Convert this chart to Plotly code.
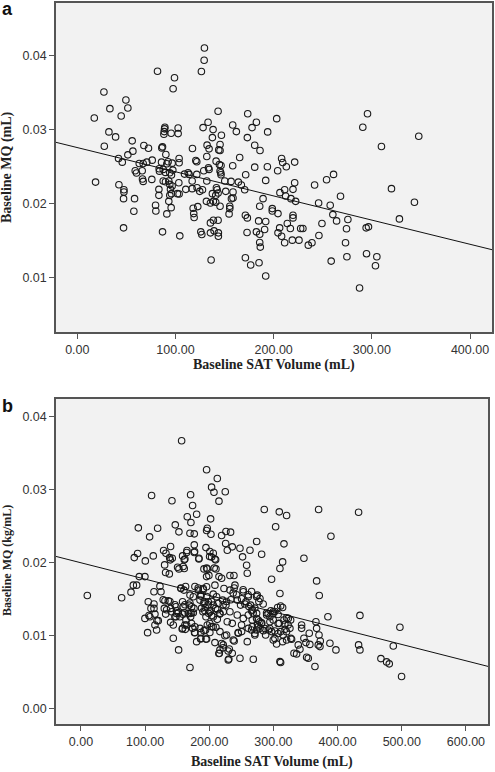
import plotly.graph_objects as go

# ---------------- Panel a data ----------------
a_sat = [129.5,129.2,126.4,81.7,99.0,97.6,27.1,49.5,33.2,51.5,44.7,17.3,143.4,173.6,203.1,295.6,290.8,347.8,309.8,32.2,
         39.0,27.5,55.9,56.6,51.5,67.8,72.5,42.0,45.8,133.2,128.1,138.3,137.6,146.8,158.3,162.0,182.4,178.0,173.2,180.7,
         186.1,193.9,89.2,88.9,88.5,88.2,95.6,102.7,102.7,86.8,86.1,90.2,132.2,134.2,145.4,144.1,145.4,117.3,120.7,121.7,
         131.9,141.4,158.3,165.4,144.7,146.4,133.6,134.2,128.8,145.4,146.1,146.4,171.5,180.7,193.6,208.1,209.2,212.9,221.4,204.1,
         191.9,67.1,63.1,70.8,76.3,59.0,60.3,66.1,66.4,67.1,75.9,83.4,83.7,85.8,87.5,91.2,92.5,96.6,97.3,103.7,
         103.7,94.2,95.9,89.8,87.5,89.8,93.2,94.2,96.6,103.4,109.2,112.9,113.9,121.7,117.0,131.9,150.2,156.6,164.1,167.1,
         221.4,241.7,253.9,261.0,18.6,42.4,
         47.5,47.5,47.1,47.1,58.3,57.6,79.7,80.0,83.1,83.1,86.8,91.2,93.2,94.9,95.9,94.2,95.6,102.0,103.7,104.4,
         110.5,117.0,122.0,124.7,127.5,118.0,118.6,119.0,122.7,125.8,126.8,131.5,135.6,137.6,141.0,142.4,143.4,141.7,138.6,141.0,
         145.4,135.6,138.6,143.4,135.6,139.3,143.7,143.7,136.3,151.2,155.3,155.3,154.6,157.0,158.6,158.6,170.5,171.2,173.2,172.9,
         171.2,176.6,185.8,189.2,184.7,191.9,182.4,185.8,185.8,186.4,190.8,185.1,191.9,198.6,198.6,204.4,206.4,211.2,212.2,217.6,
         222.4,219.7,204.4,208.1,206.1,211.2,213.9,217.0,219.7,219.7,219.0,225.8,227.5,229.8,235.3,239.0,245.8,249.2,246.1,257.6,
         260.3,264.1,258.6,268.1,275.6,274.2,273.2,274.6,287.5,294.2,296.6,294.6,305.1,303.7,320.0,328.1,343.4]
a_mq = [0.04103,0.03937,0.03785,0.03789,0.0370,0.03552,0.03507,0.0340,0.03283,0.03291,0.03184,0.03157,0.03247,0.03215,0.03148,0.03215,0.03031,0.02910,0.02771,0.02969,
        0.02901,0.02776,0.02848,0.02709,0.02659,0.02785,0.02749,0.0261,0.0256,0.0310,0.03027,0.0300,0.02892,0.02924,0.03063,0.02973,0.0310,0.03027,0.02892,0.02789,
        0.02717,0.02969,0.03031,0.0301,0.02973,0.02937,0.02951,0.03022,0.02946,0.02767,0.02753,0.02664,0.0279,0.0274,0.02798,0.02726,0.02717,0.02744,0.02583,0.02565,
        0.02637,0.02574,0.02511,0.02623,0.02529,0.02516,0.02484,0.02462,0.02444,0.0244,0.02417,0.0239,0.0239,0.02493,0.02498,0.0261,0.02556,0.02498,0.02561,0.02444,
        0.02314,0.02543,0.02543,0.0256,0.02587,0.02444,0.02413,0.02444,0.02332,0.023,0.02327,0.02471,0.02439,0.0256,0.02462,0.02538,0.02565,0.02547,0.02453,0.0261,
        0.02552,0.02417,0.02386,0.02422,0.02305,0.02296,0.02305,0.0226,0.02238,0.02283,0.02399,0.02417,0.02395,0.02395,0.02305,0.02305,0.02305,0.023,0.02291,0.02251,
        0.02282,0.02251,0.02323,0.02395,0.02291,0.02256,
        0.02188,0.02157,0.02067,0.01673,0.02067,0.01897,0.01978,0.01901,0.02193,0.02112,0.01619,0.01861,0.02031,0.02193,0.02135,0.02112,0.01946,0.02135,0.0213,0.01565,
        0.02193,0.02202,0.02215,0.02166,0.02188,0.01937,0.01865,0.01812,0.0196,0.01619,0.01583,0.02031,0.02009,0.02135,0.02112,0.02188,0.02143,0.02215,0.02031,0.02018,
        0.01964,0.0174,0.01776,0.01776,0.01605,0.01632,0.01605,0.0156,0.01238,0.02166,0.01964,0.01933,0.01861,0.02067,0.02076,0.02157,0.02188,0.01843,0.01807,0.0161,
        0.01269,0.0117,0.01964,0.02067,0.01767,0.01758,0.01619,0.01587,0.01475,0.01413,0.0165,0.01202,0.01022,0.01933,0.01901,0.01865,0.02148,0.02188,0.02103,0.02067,
        0.02031,0.02193,0.01605,0.0156,0.01673,0.01471,0.01731,0.01664,0.01843,0.01807,0.01507,0.01507,0.01664,0.01664,0.01439,0.01471,0.02009,0.01731,0.01569,0.01978,
        0.01852,0.01767,0.01224,0.02099,0.01785,0.0166,0.01471,0.01283,0.00861,0.01673,0.01686,0.01323,0.01283,0.01161,0.02202,0.01794,0.02018]

# fitted line, panel a
a_intercept = 0.02757
a_slope = -3.265e-5

# ---------------- Panel b data ----------------
b_sat = [156.9,195.8,212.5,203.6,207.3,224.9,215.1,110.1,141.8,170.9,174.0,165.7,171.4,180.3,202.1,196.9,195.8,202.6,169.9,176.6,
         219.2,226.0,233.2,225.5,228.1,235.8,89.4,107.0,119.5,147.0,152.7,285.7,309.1,320.5,303.4,316.4,314.3,310.1,273.8,263.4,
         281.6,247.8,251.9,258.2,259.2,370.4,389.6,432.7,347.5,367.3,297.1,176.6,177.1,176.6,165.2,164.7,158.4,161.0,161.0,150.6,
         152.7,139.7,128.8,132.5,138.2,142.3,139.2,130.4,131.9,137.7,112.7,100.3,88.3,83.1,90.9,99.7,183.9,194.8,206.2,200.5,
         209.9,191.7,196.9,210.4,215.1,219.2,195.8,232.2,238.4,
         159.3,162.0,183.8,200.9,203.6,208.7,195.8,207.7,199.4,
         9.9,63.4,78.0,81.6,86.8,123.1,113.8,124.7,104.9,113.8,109.1,113.8,99.7,107.5,103.9,115.3,118.4,120.5,117.9,130.9,
         136.1,129.9,132.0,139.7,141.3,139.7,143.9,148.0,151.7,148.1,143.9,152.2,158.4,159.5,161.0,163.6,164.7,158.4,162.6,155.8,
         160.5,169.9,175.1,168.8,172.5,176.1,167.3,170.9,175.1,169.9,174.0,177.1,180.3,182.9,190.6,195.8,187.0,185.5,191.7,193.8,
         198.4,190.1,194.8,198.9,201.0,185.5,191.7,196.9,186.5,195.8,208.8,206.2,211.4,206.2,209.9,214.0,206.2,212.5,216.6,203.6,
         210.4,216.6,208.8,216.6,221.8,215.6,229.6,222.9,232.2,220.8,226.0,221.8,232.2,228.0,235.8,227.0,237.4,231.2,235.8,247.8,
         240.0,243.6,248.8,243.6,253.0,245.2,250.4,259.2,253.0,260.8,257.1,264.4,260.8,267.0,260.8,267.0,268.6,267.5,273.8,274.8,
         279.0,276.4,281.6,273.8,279.0,284.2,287.8,289.4,294.5,292.0,297.1,294.5,299.7,299.7,304.9,310.1,306.5,311.2,314.3,309.1,
         316.4,311.2,318.0,310.1,311.2,314.3,320.5,323.1,326.8,325.7,328.3,332.0,336.1,338.7,341.3,343.9,343.9,347.5,350.6,351.7,
         354.3,355.8,364.7,366.2,367.3,369.9,372.5,371.0,373.0,371.4,384.9,388.0,397.4,432.7,434.8,434.8,467.5,476.4,480.5,486.8,
         497.1,499.7,
         146.4,154.2,149.1,162.0,157.8,172.4,177.6,177.6,169.8,186.9,194.7,186.9,194.2,200.9,200.9,206.1,219.2,215.0,221.7,229.4,
         230.5,224.3,238.8,245.0,250.3,265.9,271.0,275.2,
         356.7,322.9,320.4,327.1,302.2,307.3,315.1,302.2,307.3,317.8,320.4,299.5,307.3,273.7,278.8,276.2,271.0,286.6,294.4,281.4,
         291.7,299.5,
         105.9,115.3,133.5,128.2,138.6,146.4,149.1,158.4,162.0,169.8,172.4,155.8,163.1,177.6,182.7,186.9,190.5,195.8,192.1,198.3,
         203.6,188.0,193.1,200.9,203.6,212.9,216.5,221.7,226.9,233.6,237.2,238.8,242.5,250.3,255.5,261.7,265.9,271.0,252.8,260.6,
         265.9,273.7,277.3,268.4,
         289.3,296.0,302.2,284.0]
b_mq = [0.03667,0.03269,0.03151,0.03032,0.02963,0.02968,0.0284,0.02918,0.02845,0.02927,0.02781,0.02626,0.02548,0.02662,0.02598,0.0247,0.02438,0.02388,0.02402,0.02393,
        0.0237,0.02425,0.02416,0.0226,0.02169,0.02215,0.02475,0.02352,0.0247,0.02516,0.0242,0.02726,0.02694,0.02644,0.02489,0.02256,0.02009,0.01918,0.02288,0.02169,
        0.02114,0.02196,0.02078,0.01963,0.01854,0.02726,0.02361,0.02689,0.02059,0.01749,0.01772,0.02242,0.02151,0.02137,0.02164,0.02137,0.02091,0.02037,0.01918,0.01936,
        0.01913,0.02219,0.02164,0.02128,0.02068,0.02059,0.02037,0.01968,0.01863,0.01845,0.02091,0.02023,0.02123,0.02068,0.01808,0.01808,0.02059,0.02205,0.02128,0.02082,
        0.02037,0.01913,0.01913,0.01913,0.01808,0.01785,0.01808,0.01822,0.01822,
        0.01947,0.02048,0.02048,0.02152,0.02075,0.02048,0.01925,0.01925,0.01824,
        0.0155,0.01518,0.01595,0.01691,0.01691,0.01677,0.016,0.016,0.01464,0.01432,0.01373,0.01373,0.01236,0.01259,0.01041,0.01145,0.01205,0.01205,0.01077,0.01477,
        0.01477,0.01373,0.01295,0.01373,0.01327,0.01182,0.01145,0.01395,0.01314,0.01259,0.00964,0.00805,0.01464,0.01395,0.01314,0.01214,0.01145,0.0110,0.01086,0.01645,
        0.01623,0.01555,0.01532,0.01418,0.01395,0.01373,0.01305,0.01259,0.01314,0.00564,0.011,0.01041,0.00918,0.01623,0.01645,0.01668,0.01541,0.01486,0.01441,0.01386,
        0.01464,0.01327,0.01259,0.01305,0.01341,0.011,0.01068,0.01145,0.00955,0.00955,0.01691,0.01568,0.01532,0.01418,0.01373,0.01441,0.01259,0.01223,0.01305,0.01123,
        0.01114,0.01055,0.00905,0.00805,0.00873,0.00759,0.00668,0.01645,0.01623,0.01486,0.01418,0.01327,0.01327,0.01191,0.01168,0.01009,0.00941,0.00818,0.00759,0.00691,
        0.01691,0.01486,0.01418,0.01282,0.01236,0.01032,0.01055,0.00918,0.016,0.01532,0.01464,0.01418,0.01282,0.01214,0.011,0.01123,0.00677,0.0135,0.01305,0.01555,
        0.01509,0.01214,0.01177,0.01077,0.011,0.01068,0.01009,0.01282,0.01259,0.01077,0.01055,0.01191,0.01214,0.00941,0.00886,0.01577,0.01386,0.01405,0.01386,0.01168,
        0.01214,0.01055,0.01086,0.00645,0.00632,0.00918,0.00941,0.01236,0.01214,0.011,0.0095,0.00759,0.0075,0.00873,0.00814,0.01145,0.011,0.00964,0.00905,0.00705,
        0.00691,0.01032,0.00577,0.01191,0.011,0.00873,0.0085,0.01009,0.00927,0.0155,0.01259,0.00895,0.00805,0.00873,0.00805,0.01277,0.00686,0.00641,0.00614,0.00859,
        0.01114,0.00441,
        0.01259,0.01259,0.01304,0.01145,0.0109,0.01167,0.01122,0.01044,0.01304,0.00962,0.00953,0.01044,0.01077,0.01044,0.01167,0.01122,0.00893,0.00756,0.00834,0.00789,
        0.0068,0.00999,0.00926,0.01044,0.01145,0.01077,0.0103,0.01145,
        0.0088,0.01145,0.01053,0.00962,0.00962,0.0103,0.01008,0.01063,0.01167,0.01153,0.01245,0.01304,0.0129,0.01235,0.0119,0.01122,0.01008,0.01098,0.01098,0.01167,
        0.01304,0.01327,
        0.01276,0.01295,0.01354,0.01491,0.01468,0.01423,0.01341,0.01295,0.01423,0.01446,0.01309,0.01651,0.01673,0.01673,0.01651,0.0156,0.01628,0.01536,0.01468,0.01423,
        0.01468,0.01377,0.01341,0.01323,0.01276,0.01354,0.01295,0.01423,0.01468,0.01491,0.01583,0.01651,0.0156,0.01505,0.01432,0.01399,0.01341,0.01377,0.01628,0.0156,
        0.01605,0.01536,0.01468,0.01309,
        0.01309,0.01341,0.01331,0.01432]

# fitted line, panel b
b_intercept = 0.01997
b_slope = -2.235e-5

# axis ranges / ticks
a_xrange = [-21.7, 422.4]
a_yrange = [0.00266, 0.0471]
b_xrange = [-38.9, 634.4]
b_yrange = [-0.00209, 0.04238]
a_xticks = [0, 100, 200, 300, 400]
b_xticks = [0, 100, 200, 300, 400, 500, 600]
a_yticks = [0.01, 0.02, 0.03, 0.04]
b_yticks = [0.00, 0.01, 0.02, 0.03, 0.04]

W, H = 495, 772
marker = dict(symbol="circle-open", size=6.5, color="#1a1a1a", line=dict(width=1.1, color="#1a1a1a"))
line_style = dict(color="#111111", width=1)

fig = go.Figure()
fig.add_trace(go.Scatter(x=a_sat, y=a_mq, mode="markers", marker=marker, xaxis="x", yaxis="y", showlegend=False))
fig.add_trace(go.Scatter(x=a_xrange, y=[a_intercept + a_slope * v for v in a_xrange], mode="lines",
                         line=line_style, xaxis="x", yaxis="y", showlegend=False))
fig.add_trace(go.Scatter(x=b_sat, y=b_mq, mode="markers", marker=marker, xaxis="x2", yaxis="y2", showlegend=False))
fig.add_trace(go.Scatter(x=b_xrange, y=[b_intercept + b_slope * v for v in b_xrange], mode="lines",
                         line=line_style, xaxis="x2", yaxis="y2", showlegend=False))

tickfont = dict(family="Liberation Sans, Arial, sans-serif", size=12.5, color="#333333")
common = dict(showgrid=False, zeroline=False, showline=True, mirror=True, linecolor="#555555", linewidth=1.5,
              ticks="outside", ticklen=5, tickwidth=1, tickcolor="#555555", tickfont=tickfont, tickformat=".2f")

fig.update_layout(
    width=W, height=H, margin=dict(l=0, r=0, t=0, b=0),
    paper_bgcolor="white", plot_bgcolor="#f2f2f2",
    xaxis=dict(domain=[56 / W, 492 / W], range=a_xrange, tickvals=a_xticks, anchor="y", **common),
    yaxis=dict(domain=[1 - 332 / H, 1 - 3 / H], range=a_yrange, tickvals=a_yticks, anchor="x", **common),
    xaxis2=dict(domain=[56 / W, 488 / W], range=b_xrange, tickvals=b_xticks, anchor="y2", **common),
    yaxis2=dict(domain=[1 - 724 / H, 1 - 399 / H], range=b_yrange, tickvals=b_yticks, anchor="x2", **common),
)

titlefont = dict(family="Liberation Serif, Times New Roman, serif", size=14, color="#222222", weight="bold")
ann = [
    dict(text="Baseline SAT Volume (mL)", x=274 / W, y=1 - 365 / H, font=titlefont),
    dict(text="Baseline SAT Volume (mL)", x=272 / W, y=1 - 762 / H, font=titlefont),
    dict(text="Baseline MQ (mL)", x=7 / W, y=1 - 167 / H, textangle=-90, font=titlefont),
    dict(text="Baseline MQ (kg/mL)", x=7 / W, y=1 - 561 / H, textangle=-90, font=dict(titlefont, size=12)),
    dict(text="a", x=7 / W, y=1 - 9 / H, font=dict(family="Liberation Sans, Arial, sans-serif", size=18, color="#111", weight="bold")),
    dict(text="b", x=7 / W, y=1 - 406 / H, font=dict(family="Liberation Sans, Arial, sans-serif", size=18, color="#111", weight="bold")),
]
for a in ann:
    fig.add_annotation(xref="paper", yref="paper", showarrow=False, xanchor="center", yanchor="middle", **a)

fig.write_html("out.html", config={"displayModeBar": False},
               post_script="document.body.style.margin='0px';document.body.style.overflow='hidden';")
